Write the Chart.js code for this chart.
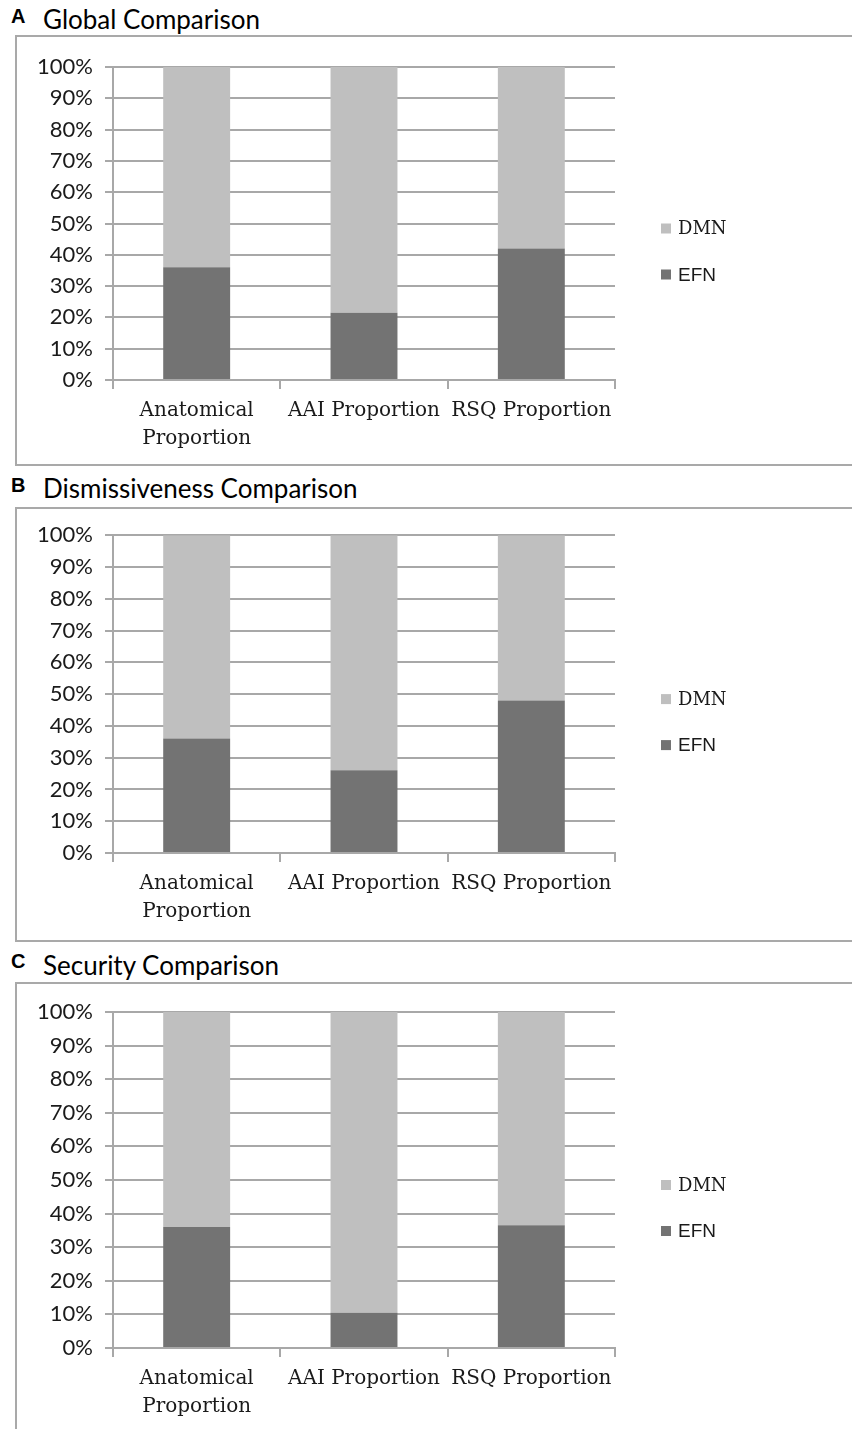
<!DOCTYPE html>
<html>
<head>
<meta charset="utf-8">
<script src="https://cdn.jsdelivr.net/npm/chart.js@4.4.1/dist/chart.umd.min.js"></script>
<style>
  html, body { margin: 0; padding: 0; background: #fff; }
  body { width: 852px; height: 1429px; position: relative; overflow: hidden; }
  .box { position: absolute; left: 15px; width: 860px; border: 2px solid #a9a9a9; box-sizing: border-box; }
  .letter { position: absolute; font: bold 20px "Liberation Sans", Arial, sans-serif; color: #000; }
  .title { position: absolute; font: 26px Lato, "Open Sans", sans-serif; color: #000; white-space: nowrap; }
  canvas { position: absolute; left: 0; }
</style>
</head>
<body>
  <div class="letter" style="left:11px; top:5px;">A</div>
  <div class="title" style="left:43px; top:3px;">Global Comparison</div>
  <div class="box" style="top:35px; height:431px;"></div>
  <div style="position:absolute; left:0; top:38px; width:852px; height:426px;"><canvas id="chartA"></canvas></div>

  <div class="letter" style="left:11px; top:474px;">B</div>
  <div class="title" style="left:43px; top:472px;">Dismissiveness Comparison</div>
  <div class="box" style="top:507px; height:435px;"></div>
  <div style="position:absolute; left:0; top:510px; width:852px; height:428px;"><canvas id="chartB"></canvas></div>

  <div class="letter" style="left:11px; top:950px;">C</div>
  <div class="title" style="left:43px; top:949px;">Security Comparison</div>
  <div class="box" style="top:982px; height:470px; border-bottom:none;"></div>
  <div style="position:absolute; left:0; top:985px; width:852px; height:444px;"><canvas id="chartC"></canvas></div>

<script>
// Categories and tick values shared by all three panels
const categories = [["Anatomical", "Proportion"], "AAI Proportion", "RSQ Proportion"];
const yTicks = [0, 10, 20, 30, 40, 50, 60, 70, 80, 90, 100];

// Panel A – Global Comparison (percent)
const globalEFN = [36, 21.5, 42];
const globalDMN = [64, 78.5, 58];

// Panel B – Dismissiveness Comparison (percent)
const dismissEFN = [36, 26, 48];
const dismissDMN = [64, 74, 52];

// Panel C – Security Comparison (percent)
const securityEFN = [36, 10.5, 36.5];
const securityDMN = [64, 89.5, 63.5];

const GRID = '#a8a8a8';
const TEXT = '#1a1a1a';
const COLOR_DMN = '#bfbfbf';
const COLOR_EFN = '#737373';

// Legend drawn at the right of the plot, each entry with its own font
const sideLegend = {
  id: 'sideLegend',
  afterDraw(chart, args, opts) {
    const ctx = chart.ctx;
    const area = chart.chartArea;
    const mid = (area.top + area.bottom) / 2;
    const items = chart.data.datasets.slice().reverse();
    ctx.save();
    items.forEach((ds, i) => {
      const cy = mid + opts.offsetY + i * opts.gap;
      ctx.fillStyle = ds.backgroundColor;
      ctx.fillRect(opts.x, cy - 5, 10, 10);
      ctx.fillStyle = TEXT;
      ctx.font = opts.fonts[ds.label];
      ctx.textBaseline = 'middle';
      ctx.textAlign = 'left';
      ctx.fillText(ds.label, opts.x + 17, cy + 1);
    });
    ctx.restore();
  }
};

function makeChart(id, efn, dmn, topPad, xHeight) {
  return new Chart(document.getElementById(id), {
    type: 'bar',
    data: {
      labels: categories,
      datasets: [
        { label: 'EFN', data: efn, backgroundColor: COLOR_EFN },
        { label: 'DMN', data: dmn, backgroundColor: COLOR_DMN }
      ]
    },
    options: {
      responsive: true,
      maintainAspectRatio: false,
      animation: false,
      events: [],
      layout: { padding: { left: 17, right: 237, top: topPad, bottom: 0 } },
      datasets: { bar: { categoryPercentage: 1.0, barPercentage: 0.4 } },
      plugins: {
        legend: { display: false },
        tooltip: { enabled: false },
        sideLegend: {
          x: 661, offsetY: 5, gap: 46,
          fonts: { DMN: '18px "DejaVu Serif", serif', EFN: '19px "Liberation Sans", Arial, sans-serif' }
        }
      },
      scales: {
        x: {
          stacked: true,
          afterFit(scale) { scale.height = xHeight; },
          grid: { display: true, drawOnChartArea: false, drawTicks: true, tickLength: 9, color: GRID, lineWidth: 2, offset: true },
          border: { display: true, color: GRID, width: 2 },
          ticks: {
            color: TEXT, padding: 8, maxRotation: 0, autoSkip: false,
            font: { family: '"DejaVu Serif", serif', size: 20, lineHeight: 1.4 }
          }
        },
        y: {
          stacked: true,
          min: 0, max: 100,
          afterFit(scale) { scale.width = 96; },
          afterBuildTicks(scale) { scale.ticks = yTicks.map(v => ({ value: v })); },
          grid: { color: GRID, lineWidth: 2, tickLength: 8, drawTicks: true },
          border: { display: true, color: GRID, width: 2 },
          ticks: {
            color: TEXT, padding: 12,
            font: { family: 'Lato, "Open Sans", sans-serif', size: 22 },
            callback: v => v + '%'
          }
        }
      }
    },
    plugins: [sideLegend]
  });
}

makeChart('chartA', globalEFN, globalDMN, 29, 84);
makeChart('chartB', dismissEFN, dismissDMN, 25, 85);
makeChart('chartC', securityEFN, securityDMN, 27, 81);
</script>
</body>
</html>
